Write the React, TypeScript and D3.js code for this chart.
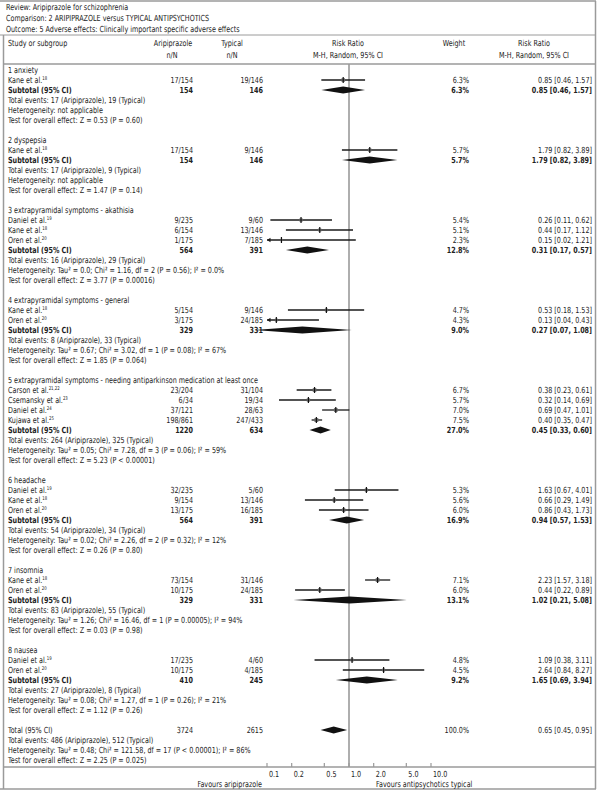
import React from "react";
import * as d3 from "d3";

const headerLines = [
  "Review: Aripiprazole for schizophrenia",
  "Comparison: 2 ARIPIPRAZOLE versus TYPICAL ANTIPSYCHOTICS",
  "Outcome: 5 Adverse effects: Clinically important specific adverse effects",
];

const groupTitles = [
  "1 anxiety",
  "2 dyspepsia",
  "3 extrapyramidal symptoms - akathisia",
  "4 extrapyramidal symptoms - general",
  "5 extrapyramidal symptoms - needing antiparkinson medication at least once",
  "6 headache",
  "7 insomnia",
  "8 nausea",
];

// group, name, ref, arip n/N, typical n/N, weight, rr, lo, hi
const studies: [number, string, string, string, string, string, number, number, number][] = [
  [0, "Kane et al.", "18", "17/154", "19/146", "6.3%", 0.85, 0.46, 1.57],
  [1, "Kane et al.", "18", "17/154", "9/146", "5.7%", 1.79, 0.82, 3.89],
  [2, "Daniel et al.", "19", "9/235", "9/60", "5.4%", 0.26, 0.11, 0.62],
  [2, "Kane et al.", "18", "6/154", "13/146", "5.1%", 0.44, 0.17, 1.12],
  [2, "Oren et al.", "20", "1/175", "7/185", "2.3%", 0.15, 0.02, 1.21],
  [3, "Kane et al.", "18", "5/154", "9/146", "4.7%", 0.53, 0.18, 1.53],
  [3, "Oren et al.", "20", "3/175", "24/185", "4.3%", 0.13, 0.04, 0.43],
  [4, "Carson et al.", "21,22", "23/204", "31/104", "6.7%", 0.38, 0.23, 0.61],
  [4, "Csemansky et al.", "23", "6/34", "19/34", "5.7%", 0.32, 0.14, 0.69],
  [4, "Daniel et al.", "24", "37/121", "28/63", "7.0%", 0.69, 0.47, 1.01],
  [4, "Kujawa et al.", "25", "198/861", "247/433", "7.5%", 0.4, 0.35, 0.47],
  [5, "Daniel et al.", "19", "32/235", "5/60", "5.3%", 1.63, 0.67, 4.01],
  [5, "Kane et al.", "18", "9/154", "13/146", "5.6%", 0.66, 0.29, 1.49],
  [5, "Oren et al.", "20", "13/175", "16/185", "6.0%", 0.86, 0.43, 1.73],
  [6, "Kane et al.", "18", "73/154", "31/146", "7.1%", 2.23, 1.57, 3.18],
  [6, "Oren et al.", "20", "10/175", "24/185", "6.0%", 0.44, 0.22, 0.89],
  [7, "Daniel et al.", "19", "17/235", "4/60", "4.8%", 1.09, 0.38, 3.11],
  [7, "Oren et al.", "20", "10/175", "4/185", "4.5%", 2.64, 0.84, 8.27],
];

// arip N, typical N, weight, rr, lo, hi
const subtotals: [string, string, string, number, number, number][] = [
  ["154", "146", "6.3%", 0.85, 0.46, 1.57],
  ["154", "146", "5.7%", 1.79, 0.82, 3.89],
  ["564", "391", "12.8%", 0.31, 0.17, 0.57],
  ["329", "331", "9.0%", 0.27, 0.07, 1.08],
  ["1220", "634", "27.0%", 0.45, 0.33, 0.6],
  ["564", "391", "16.9%", 0.94, 0.57, 1.53],
  ["329", "331", "13.1%", 1.02, 0.21, 5.08],
  ["410", "245", "9.2%", 1.65, 0.69, 3.94],
];

const totalEvents = [
  "Total events: 17 (Aripiprazole), 19 (Typical)",
  "Total events: 17 (Aripiprazole), 9 (Typical)",
  "Total events: 16 (Aripiprazole), 29 (Typical)",
  "Total events: 8 (Aripiprazole), 33 (Typical)",
  "Total events: 264 (Aripiprazole), 325 (Typical)",
  "Total events: 54 (Aripiprazole), 34 (Typical)",
  "Total events: 83 (Aripiprazole), 55 (Typical)",
  "Total events: 27 (Aripiprazole), 8 (Typical)",
];

const heterogeneity = [
  "Heterogeneity: not applicable",
  "Heterogeneity: not applicable",
  "Heterogeneity: Tau² = 0.0; Chi² = 1.16, df = 2 (P = 0.56); I² = 0.0%",
  "Heterogeneity: Tau² = 0.67; Chi² = 3.02, df = 1 (P = 0.08); I² = 67%",
  "Heterogeneity: Tau² = 0.05; Chi² = 7.28, df = 3 (P = 0.06); I² = 59%",
  "Heterogeneity: Tau² = 0.02; Chi² = 2.26, df = 2 (P = 0.32); I² = 12%",
  "Heterogeneity: Tau² = 1.26; Chi² = 16.46, df = 1 (P = 0.00005); I² = 94%",
  "Heterogeneity: Tau² = 0.08; Chi² = 1.27, df = 1 (P = 0.26); I² = 21%",
];

const overallTests = [
  "Test for overall effect: Z = 0.53 (P = 0.60)",
  "Test for overall effect: Z = 1.47 (P = 0.14)",
  "Test for overall effect: Z = 3.77 (P = 0.00016)",
  "Test for overall effect: Z = 1.85 (P = 0.064)",
  "Test for overall effect: Z = 5.23 (P < 0.00001)",
  "Test for overall effect: Z = 0.26 (P = 0.80)",
  "Test for overall effect: Z = 0.03 (P = 0.98)",
  "Test for overall effect: Z = 1.12 (P = 0.26)",
];

const grandTotal: [string, string, string, number, number, number] = ["3724", "2615", "100.0%", 0.65, 0.45, 0.95];
const grandTexts = [
  "Total events: 486 (Aripiprazole), 512 (Typical)",
  "Heterogeneity: Tau² = 0.48; Chi² = 121.58, df = 17 (P < 0.00001); I² = 86%",
  "Test for overall effect: Z = 2.25 (P = 0.025)",
];

const tickValues = [0.1, 0.2, 0.5, 1, 2, 5, 10];
const tickLabels = ["0.1", "0.2", "0.5", "1.0", "2.0", "5.0", "10.0"];

const FONT = "'DejaVu Sans Condensed', 'Liberation Sans Narrow', 'Arial Narrow', sans-serif";
const FS = 8.4;
const SX = 0.85;
const GRAY = "#9a9a9a";

const fmt = (v: number) => v.toFixed(2);
const rrText = (rr: number, lo: number, hi: number) => `${fmt(rr)} [${fmt(lo)}, ${fmt(hi)}]`;

type TProps = {
  x: number;
  y: number;
  anchor?: "start" | "middle" | "end";
  bold?: boolean;
  children: React.ReactNode;
};

function T({ x, y, anchor = "start", bold = false, children }: TProps) {
  return (
    <text
      transform={`translate(${x},${y}) scale(${SX},1)`}
      textAnchor={anchor}
      fontFamily={FONT}
      fontSize={FS}
      fontWeight={bold ? "bold" : "normal"}
      fill="#222"
    >
      {children}
    </text>
  );
}

type Row =
  | { kind: "text"; text: string }
  | { kind: "study"; s: (typeof studies)[number] }
  | { kind: "sub"; label: string; d: [string, string, string, number, number, number]; bold: boolean };

export default function App() {
  const x = d3.scaleLog().domain([0.1, 10]).range([267, 431]);
  const y0 = 70;
  const pitch = 10;

  const rows: (Row | null)[] = [];
  groupTitles.forEach((g, gi) => {
    rows.push({ kind: "text", text: g });
    studies.filter((s) => s[0] === gi).forEach((s) => rows.push({ kind: "study", s }));
    rows.push({ kind: "sub", label: "Subtotal (95% CI)", d: subtotals[gi], bold: true });
    rows.push({ kind: "text", text: totalEvents[gi] });
    rows.push({ kind: "text", text: heterogeneity[gi] });
    rows.push({ kind: "text", text: overallTests[gi] });
    rows.push(null);
  });
  rows.push({ kind: "sub", label: "Total (95% CI)", d: grandTotal, bold: false });
  grandTexts.forEach((t) => rows.push({ kind: "text", text: t }));

  const xAripR = 193;
  const xTypR = 263;
  const xWR = 469;
  const xRRR = 592;
  const axisY = 767;
  const xmin = 0.1;
  const xmax = 10;

  const ciLine = (rr: number, lo: number, hi: number, yc: number, w: string, key: string) => {
    const clipL = lo < xmin;
    const clipR = hi > xmax;
    const x1 = x(Math.max(lo, xmin));
    const x2 = x(Math.min(hi, xmax));
    const wt = parseFloat(w);
    const side = 1.6 + wt * 0.3;
    return (
      <g key={key}>
        <line x1={x1} x2={x2} y1={yc} y2={yc} stroke="#1a1a1a" strokeWidth={1.3} />
        {clipL && <path d={`M${x1},${yc} l3.5,-2.2 l0,4.4 Z`} fill="#1a1a1a" />}
        {clipR && <path d={`M${x2},${yc} l-3.5,-2.2 l0,4.4 Z`} fill="#1a1a1a" />}
        <rect x={x(rr) - side / 2} y={yc - side / 2} width={side} height={side} fill="#666" />
        <line x1={x(rr)} x2={x(rr)} y1={yc - 3} y2={yc + 3} stroke="#111" strokeWidth={1.2} />
      </g>
    );
  };

  return (
    <svg width={600} height={793} style={{ position: "absolute", left: 0, top: 0, background: "#fff" }}>
      <rect x={0} y={0} width={600} height={793} fill="#fff" />
      {/* frame */}
      <line x1={0} x2={596} y1={1} y2={1} stroke={GRAY} strokeWidth={1.5} />
      <line x1={595.5} x2={595.5} y1={1} y2={789} stroke={GRAY} strokeWidth={1.5} />
      <line x1={0} x2={596} y1={35} y2={35} stroke={GRAY} strokeWidth={1} />
      <line x1={3.5} x2={3.5} y1={35} y2={789} stroke={GRAY} strokeWidth={1.5} />
      <line x1={3} x2={596} y1={64} y2={64} stroke={GRAY} strokeWidth={1.5} />
      <line x1={0} x2={596} y1={789} y2={789} stroke={GRAY} strokeWidth={1.5} />

      {headerLines.map((t, i) => (
        <T key={"h" + i} x={6} y={9.5 + i * 11}>
          {t}
        </T>
      ))}

      {/* column headers */}
      <T x={8} y={46}>Study or subgroup</T>
      <T x={173} y={46} anchor="middle">Aripiprazole</T>
      <T x={172} y={58} anchor="middle">n/N</T>
      <T x={232} y={46} anchor="middle">Typical</T>
      <T x={232} y={58} anchor="middle">n/N</T>
      <T x={348} y={46} anchor="middle">Risk Ratio</T>
      <T x={348} y={58} anchor="middle">M-H, Random, 95% CI</T>
      <T x={454} y={46} anchor="middle">Weight</T>
      <T x={534} y={46} anchor="middle">Risk Ratio</T>
      <T x={534} y={58} anchor="middle">M-H, Random, 95% CI</T>

      {/* null line */}
      <line x1={x(1)} x2={x(1)} y1={64} y2={axisY} stroke={GRAY} strokeWidth={1.6} />

      {rows.map((r, i) => {
        if (!r) return null;
        const yc = y0 + i * pitch;
        const yb = yc + 3;
        if (r.kind === "text") {
          return (
            <T key={i} x={8} y={yb}>
              {r.text}
            </T>
          );
        }
        if (r.kind === "study") {
          const s = r.s;
          return (
            <g key={i}>
              <T x={8} y={yb}>
                {s[1]}
                <tspan fontSize={5} dy={-3.5}>{s[2]}</tspan>
              </T>
              <T x={xAripR} y={yb} anchor="end">{s[3]}</T>
              <T x={xTypR} y={yb} anchor="end">{s[4]}</T>
              <T x={xWR} y={yb} anchor="end">{s[5]}</T>
              <T x={xRRR} y={yb} anchor="end">{rrText(s[6], s[7], s[8])}</T>
              {ciLine(s[6], s[7], s[8], yc, s[5], "ci" + i)}
            </g>
          );
        }
        const d = r.d;
        const b = r.bold;
        const pts = [
          [x(d[4]), yc],
          [x(d[3]), yc - 3.6],
          [x(d[5]), yc],
          [x(d[3]), yc + 3.6],
        ];
        return (
          <g key={i}>
            <T x={8} y={yb} bold={b}>{r.label}</T>
            <T x={xAripR} y={yb} anchor="end" bold={b}>{d[0]}</T>
            <T x={xTypR} y={yb} anchor="end" bold={b}>{d[1]}</T>
            <T x={xWR} y={yb} anchor="end" bold={b}>{d[2]}</T>
            <T x={xRRR} y={yb} anchor="end" bold={b}>{rrText(d[3], d[4], d[5])}</T>
            <path d={"M" + pts.map((p) => p.join(",")).join("L") + "Z"} fill="#111" />
          </g>
        );
      })}

      {/* axis */}
      <line x1={3} x2={596} y1={axisY} y2={axisY} stroke={GRAY} strokeWidth={1.5} />
      {tickValues.map((t, i) => (
        <g key={"t" + i}>
          <line x1={x(t)} x2={x(t)} y1={axisY - 4} y2={axisY} stroke={GRAY} strokeWidth={1.2} />
          <T x={x(t) + 2} y={axisY + 10}>{tickLabels[i]}</T>
        </g>
      ))}
      <T x={262} y={axisY + 20} anchor="end">Favours aripiprazole</T>
      <T x={376} y={axisY + 20}>Favours antipsychotics typical</T>
    </svg>
  );
}
